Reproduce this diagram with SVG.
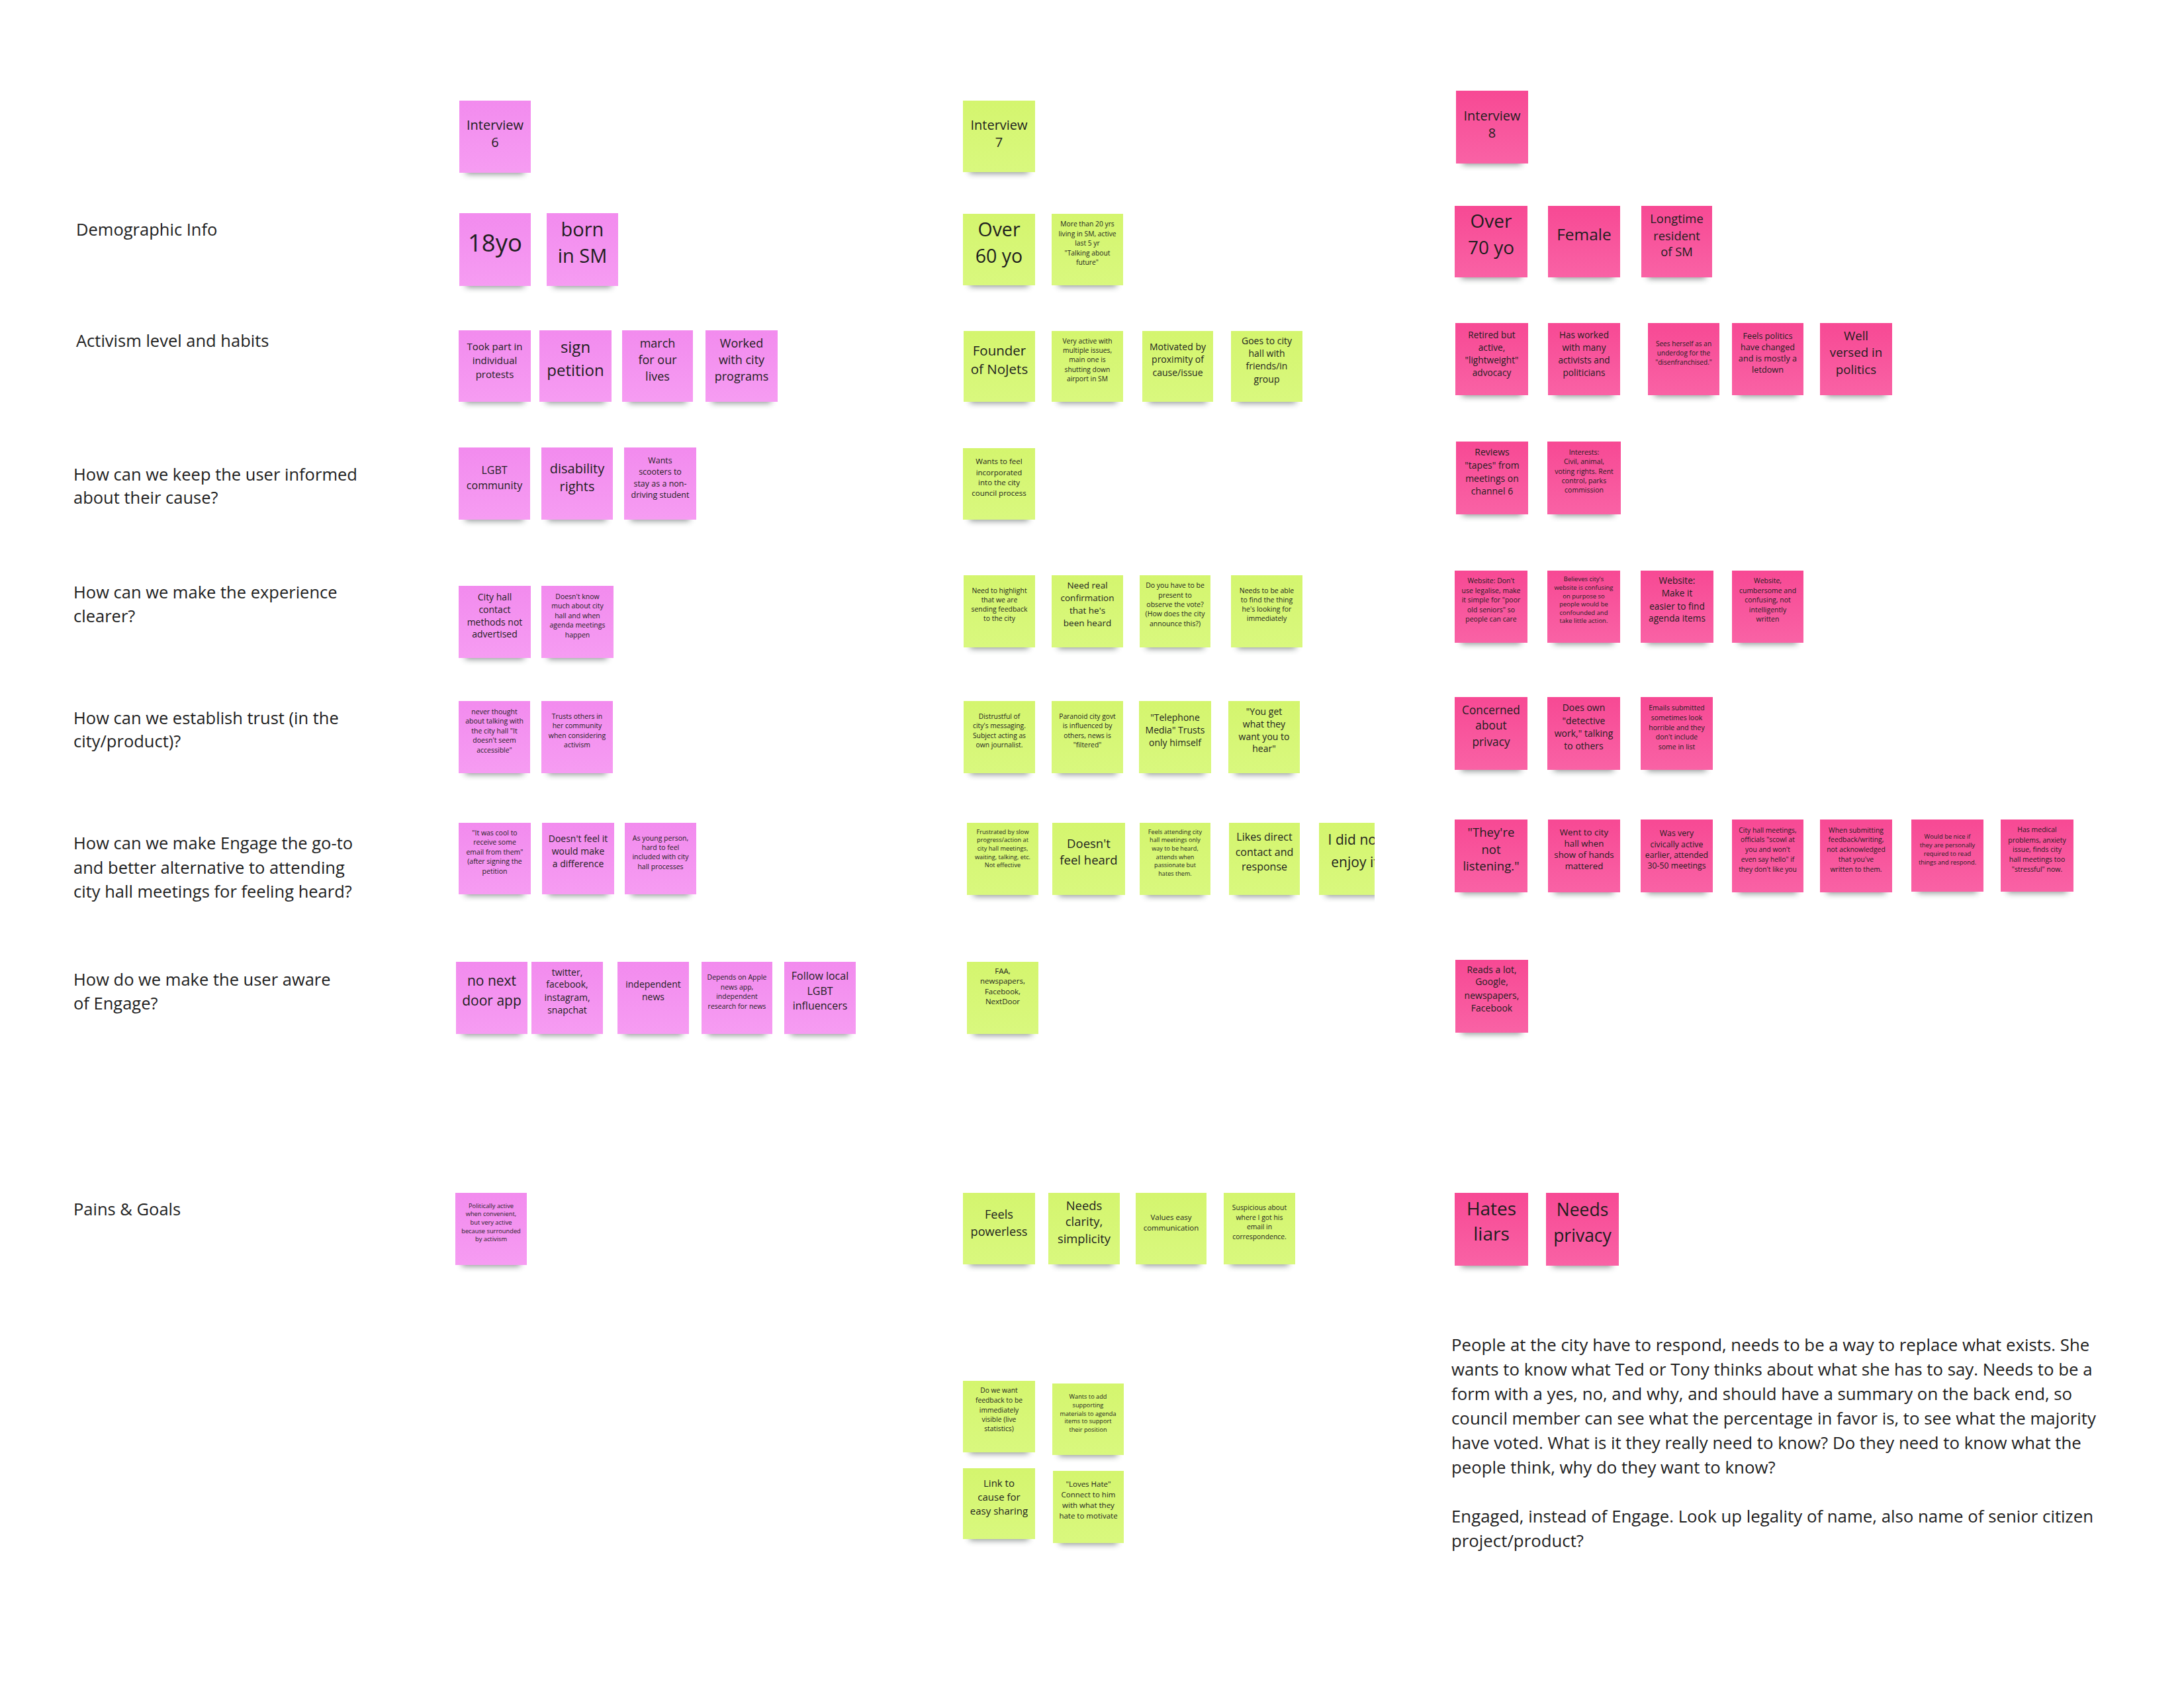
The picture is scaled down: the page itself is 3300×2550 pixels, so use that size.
<svg xmlns="http://www.w3.org/2000/svg" width="3300" height="2550" viewBox="0 0 3300 2550">
<defs>
<style>
.t{font-family:"Open Sans","Noto Sans","DejaVu Sans",sans-serif;fill:#1e1e1e;text-anchor:middle}
.l{font-family:"Open Sans","Noto Sans","DejaVu Sans",sans-serif;fill:#1e1e1e;font-size:25.5px}
.s{fill:#2f3a38;opacity:.55;filter:url(#b)}
.c1{fill:url(#g1)}
.c2{fill:url(#g2)}
.c3{fill:url(#g3)}
</style>
<filter id="b" x="-30%" y="-150%" width="160%" height="400%"><feGaussianBlur stdDeviation="5"/></filter>
<linearGradient id="g1" x1="0" y1="0" x2="0" y2="1"><stop offset="0" stop-color="#F28BEE"/><stop offset="1" stop-color="#F69CF2"/></linearGradient>
<linearGradient id="g2" x1="0" y1="0" x2="0" y2="1"><stop offset="0" stop-color="#D4F56E"/><stop offset="1" stop-color="#D9F87E"/></linearGradient>
<linearGradient id="g3" x1="0" y1="0" x2="0" y2="1"><stop offset="0" stop-color="#F74994"/><stop offset="1" stop-color="#F962A5"/></linearGradient>
<clipPath id="clipR"><rect x="0" y="0" width="2077" height="2550"/></clipPath>
</defs>
<rect width="3300" height="2550" fill="#ffffff"/>

<g id="labels">
<text class="l" x="115" y="356">Demographic Info</text>
<text class="l" x="115" y="524">Activism level and habits</text>
<text class="l" x="111" y="726">How can we keep the user informed</text>
<text class="l" x="111" y="761">about their cause?</text>
<text class="l" x="111" y="904">How can we make the experience</text>
<text class="l" x="111" y="940">clearer?</text>
<text class="l" x="111" y="1094">How can we establish trust (in the</text>
<text class="l" x="111" y="1129">city/product)?</text>
<text class="l" x="111" y="1283">How can we make Engage the go-to</text>
<text class="l" x="111" y="1320">and better alternative to attending</text>
<text class="l" x="111" y="1356">city hall meetings for feeling heard?</text>
<text class="l" x="111" y="1489">How do we make the user aware</text>
<text class="l" x="111" y="1525">of Engage?</text>
<text class="l" x="111" y="1836">Pains &amp; Goals</text>
</g>

<!-- Interview 6 column -->
<g id="int6"><rect class="s" x="704" y="249" width="88" height="14"/><rect class="c1" x="694" y="152" width="108" height="109"/><text class="t" font-size="20"><tspan x="748" y="196">Interview</tspan><tspan x="748" y="222">6</tspan></text></g>
<g id="i6-18yo"><rect class="s" x="704" y="420" width="88" height="14"/><rect class="c1" x="694" y="322" width="108" height="110"/><text class="t" font-size="36.5"><tspan x="748" y="380">18yo</tspan></text></g>
<g id="i6-born"><rect class="s" x="836" y="420" width="88" height="14"/><rect class="c1" x="826" y="322" width="108" height="110"/><text class="t" font-size="29"><tspan x="880" y="357">born</tspan><tspan x="880" y="397">in SM</tspan></text></g>
<g id="i6-took"><rect class="s" x="703" y="595" width="89" height="14"/><rect class="c1" x="693" y="499" width="109" height="108"/><text class="t" font-size="15"><tspan x="747.5" y="529">Took part in</tspan><tspan x="747.5" y="550">individual</tspan><tspan x="747.5" y="571">protests</tspan></text></g>
<g id="i6-sign"><rect class="s" x="825" y="595" width="89" height="14"/><rect class="c1" x="815" y="499" width="109" height="108"/><text class="t" font-size="24"><tspan x="869.5" y="533">sign</tspan><tspan x="869.5" y="568">petition</tspan></text></g>
<g id="i6-march"><rect class="s" x="950" y="595" width="87" height="14"/><rect class="c1" x="940" y="499" width="107" height="108"/><text class="t" font-size="18"><tspan x="993.5" y="525">march</tspan><tspan x="993.5" y="550">for our</tspan><tspan x="993.5" y="575">lives</tspan></text></g>
<g id="i6-worked"><rect class="s" x="1076" y="595" width="89" height="14"/><rect class="c1" x="1066" y="499" width="109" height="108"/><text class="t" font-size="18"><tspan x="1120.5" y="525">Worked</tspan><tspan x="1120.5" y="550">with city</tspan><tspan x="1120.5" y="575">programs</tspan></text></g>
<g id="i6-lgbt"><rect class="s" x="703" y="773" width="88" height="14"/><rect class="c1" x="693" y="676" width="108" height="109"/><text class="t" font-size="16"><tspan x="747" y="716">LGBT</tspan><tspan x="747" y="739">community</tspan></text></g>
<g id="i6-disab"><rect class="s" x="828" y="773" width="88" height="14"/><rect class="c1" x="818" y="676" width="108" height="109"/><text class="t" font-size="20"><tspan x="872" y="715">disability</tspan><tspan x="872" y="742">rights</tspan></text></g>
<g id="i6-scoot"><rect class="s" x="953" y="773" width="89" height="14"/><rect class="c1" x="943" y="676" width="109" height="109"/><text class="t" font-size="12.5"><tspan x="997.5" y="700">Wants</tspan><tspan x="997.5" y="717">scooters to</tspan><tspan x="997.5" y="735">stay as a non-</tspan><tspan x="997.5" y="752">driving student</tspan></text></g>
<g id="i6-cityhall"><rect class="s" x="703" y="982" width="89" height="14"/><rect class="c1" x="693" y="885" width="109" height="109"/><text class="t" font-size="14"><tspan x="747.5" y="907">City hall</tspan><tspan x="747.5" y="926">contact</tspan><tspan x="747.5" y="945">methods not</tspan><tspan x="747.5" y="963">advertised</tspan></text></g>
<g id="i6-dknow"><rect class="s" x="828" y="982" width="89" height="14"/><rect class="c1" x="818" y="885" width="109" height="109"/><text class="t" font-size="10.5"><tspan x="872.5" y="904.5">Doesn't know</tspan><tspan x="872.5" y="919">much about city</tspan><tspan x="872.5" y="933.5">hall and when</tspan><tspan x="872.5" y="948">agenda meetings</tspan><tspan x="872.5" y="962.5">happen</tspan></text></g>
<g id="i6-never"><rect class="s" x="703" y="1156" width="88" height="14"/><rect class="c1" x="693" y="1059" width="108" height="109"/><text class="t" font-size="10.5"><tspan x="747" y="1078.6">never thought</tspan><tspan x="747" y="1093">about talking with</tspan><tspan x="747" y="1107.6">the city hall "It</tspan><tspan x="747" y="1122">doesn't seem</tspan><tspan x="747" y="1136.6">accessible"</tspan></text></g>
<g id="i6-trusts"><rect class="s" x="828" y="1156" width="88" height="14"/><rect class="c1" x="818" y="1059" width="108" height="109"/><text class="t" font-size="10.5"><tspan x="872" y="1085.7">Trusts others in</tspan><tspan x="872" y="1100.4">her community</tspan><tspan x="872" y="1114.7">when considering</tspan><tspan x="872" y="1129">activism</tspan></text></g>
<g id="i6-cool"><rect class="s" x="703" y="1339" width="89" height="14"/><rect class="c1" x="693" y="1243" width="109" height="108"/><text class="t" font-size="10.5"><tspan x="747.5" y="1261.6">"It was cool to</tspan><tspan x="747.5" y="1276.3">receive some</tspan><tspan x="747.5" y="1290.6">email from them"</tspan><tspan x="747.5" y="1305.4">(after signing the</tspan><tspan x="747.5" y="1319.6">petition</tspan></text></g>
<g id="i6-dfeel"><rect class="s" x="829" y="1339" width="89" height="14"/><rect class="c1" x="819" y="1243" width="109" height="108"/><text class="t" font-size="14"><tspan x="873.5" y="1272">Doesn't feel it</tspan><tspan x="873.5" y="1291">would make</tspan><tspan x="873.5" y="1310">a difference</tspan></text></g>
<g id="i6-young"><rect class="s" x="954" y="1339" width="88" height="14"/><rect class="c1" x="944" y="1243" width="108" height="108"/><text class="t" font-size="10.5"><tspan x="998" y="1269.6">As young person,</tspan><tspan x="998" y="1284">hard to feel</tspan><tspan x="998" y="1298">included with city</tspan><tspan x="998" y="1313">hall processes</tspan></text></g>
<g id="i6-nonext"><rect class="s" x="699" y="1550" width="88" height="14"/><rect class="c1" x="689" y="1453" width="108" height="109"/><text class="t" font-size="21"><tspan x="743" y="1489">no next</tspan><tspan x="743" y="1519">door app</tspan></text></g>
<g id="i6-twitter"><rect class="s" x="813" y="1550" width="88" height="14"/><rect class="c1" x="803" y="1453" width="108" height="109"/><text class="t" font-size="14"><tspan x="857" y="1474">twitter,</tspan><tspan x="857" y="1492">facebook,</tspan><tspan x="857" y="1511.6">instagram,</tspan><tspan x="857" y="1530.8">snapchat</tspan></text></g>
<g id="i6-indep"><rect class="s" x="943" y="1550" width="88" height="14"/><rect class="c1" x="933" y="1453" width="108" height="109"/><text class="t" font-size="14"><tspan x="987" y="1492">independent</tspan><tspan x="987" y="1511">news</tspan></text></g>
<g id="i6-apple"><rect class="s" x="1070" y="1550" width="87" height="14"/><rect class="c1" x="1060" y="1453" width="107" height="109"/><text class="t" font-size="10.5"><tspan x="1113.5" y="1480">Depends on Apple</tspan><tspan x="1113.5" y="1495">news app,</tspan><tspan x="1113.5" y="1509">independent</tspan><tspan x="1113.5" y="1524">research for news</tspan></text></g>
<g id="i6-follow"><rect class="s" x="1195" y="1550" width="88" height="14"/><rect class="c1" x="1185" y="1453" width="108" height="109"/><text class="t" font-size="16"><tspan x="1239" y="1479.5">Follow local</tspan><tspan x="1239" y="1502.7">LGBT</tspan><tspan x="1239" y="1525">influencers</tspan></text></g>
<g id="i6-polit"><rect class="s" x="698" y="1899" width="88" height="14"/><rect class="c1" x="688" y="1802" width="108" height="109"/><text class="t" font-size="9.3"><tspan x="742" y="1825">Politically active</tspan><tspan x="742" y="1837.3">when convenient,</tspan><tspan x="742" y="1850">but very active</tspan><tspan x="742" y="1862.7">because surrounded</tspan><tspan x="742" y="1875">by activism</tspan></text></g>

<!-- Interview 7 column -->
<g id="int7"><rect class="s" x="1465" y="248" width="89" height="14"/><rect class="c2" x="1455" y="152" width="109" height="108"/><text class="t" font-size="20"><tspan x="1509.5" y="196">Interview</tspan><tspan x="1509.5" y="222">7</tspan></text></g>
<g id="i7-over60"><rect class="s" x="1465" y="419" width="89" height="14"/><rect class="c2" x="1455" y="323" width="109" height="108"/><text class="t" font-size="28.5"><tspan x="1509.5" y="356.7">Over</tspan><tspan x="1509.5" y="396.7">60 yo</tspan></text></g>
<g id="i7-more20"><rect class="s" x="1599" y="419" width="88" height="14"/><rect class="c2" x="1589" y="323" width="108" height="108"/><text class="t" font-size="10.3"><tspan x="1643" y="342.3">More than 20 yrs</tspan><tspan x="1643" y="356.7">living in SM, active</tspan><tspan x="1643" y="370.7">last 5 yr</tspan><tspan x="1643" y="385.7">"Talking about</tspan><tspan x="1643" y="399.7">future"</tspan></text></g>
<g id="i7-founder"><rect class="s" x="1466" y="595" width="88" height="14"/><rect class="c2" x="1456" y="500" width="108" height="107"/><text class="t" font-size="20.5"><tspan x="1510" y="537.3">Founder</tspan><tspan x="1510" y="565">of NoJets</tspan></text></g>
<g id="i7-veryact"><rect class="s" x="1599" y="595" width="88" height="14"/><rect class="c2" x="1589" y="500" width="108" height="107"/><text class="t" font-size="10.3"><tspan x="1643" y="519">Very active with</tspan><tspan x="1643" y="533.3">multiple issues,</tspan><tspan x="1643" y="547.3">main one is</tspan><tspan x="1643" y="561.7">shutting down</tspan><tspan x="1643" y="576">airport in SM</tspan></text></g>
<g id="i7-motiv"><rect class="s" x="1736" y="595" width="87" height="14"/><rect class="c2" x="1726" y="500" width="107" height="107"/><text class="t" font-size="14"><tspan x="1779.5" y="529.3">Motivated by</tspan><tspan x="1779.5" y="548.3">proximity of</tspan><tspan x="1779.5" y="567.7">cause/issue</tspan></text></g>
<g id="i7-goes"><rect class="s" x="1870" y="595" width="88" height="14"/><rect class="c2" x="1860" y="500" width="108" height="107"/><text class="t" font-size="14"><tspan x="1914" y="520">Goes to city</tspan><tspan x="1914" y="539.3">hall with</tspan><tspan x="1914" y="558.3">friends/in</tspan><tspan x="1914" y="577.7">group</tspan></text></g>
<g id="i7-wantsfeel"><rect class="s" x="1465" y="773" width="89" height="14"/><rect class="c2" x="1455" y="677" width="109" height="108"/><text class="t" font-size="11.5"><tspan x="1509.5" y="701">Wants to feel</tspan><tspan x="1509.5" y="717.7">incorporated</tspan><tspan x="1509.5" y="733.3">into the city</tspan><tspan x="1509.5" y="749">council process</tspan></text></g>
<g id="i7-highlight"><rect class="s" x="1466" y="966" width="88" height="14"/><rect class="c2" x="1456" y="869" width="108" height="109"/><text class="t" font-size="10.4"><tspan x="1510" y="895.5">Need to highlight</tspan><tspan x="1510" y="909.8">that we are</tspan><tspan x="1510" y="924.1">sending feedback</tspan><tspan x="1510" y="938.4">to the city</tspan></text></g>
<g id="i7-confirm"><rect class="s" x="1599" y="966" width="88" height="14"/><rect class="c2" x="1589" y="869" width="108" height="109"/><text class="t" font-size="13.5"><tspan x="1643" y="889.3">Need real</tspan><tspan x="1643" y="908">confirmation</tspan><tspan x="1643" y="926.8">that he's</tspan><tspan x="1643" y="946">been heard</tspan></text></g>
<g id="i7-doyou"><rect class="s" x="1732" y="966" width="87" height="14"/><rect class="c2" x="1722" y="869" width="107" height="109"/><text class="t" font-size="10.5"><tspan x="1775.5" y="888.4">Do you have to be</tspan><tspan x="1775.5" y="902.7">present to</tspan><tspan x="1775.5" y="917">observe the vote?</tspan><tspan x="1775.5" y="931.3">(How does the city</tspan><tspan x="1775.5" y="946">announce this?)</tspan></text></g>
<g id="i7-needsable"><rect class="s" x="1870" y="966" width="88" height="14"/><rect class="c2" x="1860" y="869" width="108" height="109"/><text class="t" font-size="10.5"><tspan x="1914" y="895.5">Needs to be able</tspan><tspan x="1914" y="909.8">to find the thing</tspan><tspan x="1914" y="924.1">he's looking for</tspan><tspan x="1914" y="938.4">immediately</tspan></text></g>
<g id="i7-distrust"><rect class="s" x="1466" y="1156" width="88" height="14"/><rect class="c2" x="1456" y="1059" width="108" height="109"/><text class="t" font-size="10.3"><tspan x="1510" y="1085.7">Distrustful of</tspan><tspan x="1510" y="1100.4">city's messaging.</tspan><tspan x="1510" y="1114.7">Subject acting as</tspan><tspan x="1510" y="1129">own journalist.</tspan></text></g>
<g id="i7-paranoid"><rect class="s" x="1599" y="1156" width="88" height="14"/><rect class="c2" x="1589" y="1059" width="108" height="109"/><text class="t" font-size="10.3"><tspan x="1643" y="1085.7">Paranoid city govt</tspan><tspan x="1643" y="1100.4">is influenced by</tspan><tspan x="1643" y="1114.7">others, news is</tspan><tspan x="1643" y="1129">"filtered"</tspan></text></g>
<g id="i7-teleph"><rect class="s" x="1731" y="1156" width="89" height="14"/><rect class="c2" x="1721" y="1059" width="109" height="109"/><text class="t" font-size="14"><tspan x="1775.5" y="1088.8">"Telephone</tspan><tspan x="1775.5" y="1108">Media" Trusts</tspan><tspan x="1775.5" y="1126.8">only himself</tspan></text></g>
<g id="i7-youget"><rect class="s" x="1866" y="1156" width="88" height="14"/><rect class="c2" x="1856" y="1059" width="108" height="109"/><text class="t" font-size="14"><tspan x="1910" y="1080">"You get</tspan><tspan x="1910" y="1099">what they</tspan><tspan x="1910" y="1117.9">want you to</tspan><tspan x="1910" y="1135.7">hear"</tspan></text></g>
<g id="i7-frustr"><rect class="s" x="1471" y="1340" width="88" height="14"/><rect class="c2" x="1461" y="1243" width="108" height="109"/><text class="t" font-size="9.2"><tspan x="1515" y="1259.8">Frustrated by slow</tspan><tspan x="1515" y="1272.3">progress/action at</tspan><tspan x="1515" y="1285.3">city hall meetings,</tspan><tspan x="1515" y="1297.8">waiting, talking, etc.</tspan><tspan x="1515" y="1310.3">Not effective</tspan></text></g>
<g id="i7-dfh"><rect class="s" x="1600" y="1340" width="90" height="14"/><rect class="c2" x="1590" y="1243" width="110" height="109"/><text class="t" font-size="18.5"><tspan x="1645" y="1280.8">Doesn't</tspan><tspan x="1645" y="1306.3">feel heard</tspan></text></g>
<g id="i7-attend"><rect class="s" x="1732" y="1340" width="87" height="14"/><rect class="c2" x="1722" y="1243" width="107" height="109"/><text class="t" font-size="9.1"><tspan x="1775.5" y="1259.8">Feels attending city</tspan><tspan x="1775.5" y="1272.3">hall meetings only</tspan><tspan x="1775.5" y="1285.3">way to be heard,</tspan><tspan x="1775.5" y="1297.8">attends when</tspan><tspan x="1775.5" y="1310.3">passionate but</tspan><tspan x="1775.5" y="1323">hates them.</tspan></text></g>
<g id="i7-likes"><rect class="s" x="1867" y="1340" width="87" height="14"/><rect class="c2" x="1857" y="1243" width="107" height="109"/><text class="t" font-size="16"><tspan x="1910.5" y="1269.6">Likes direct</tspan><tspan x="1910.5" y="1292.9">contact and</tspan><tspan x="1910.5" y="1315.2">response</tspan></text></g>
<g id="i7-enjoy" clip-path="url(#clipR)"><rect class="s" x="2003" y="1340" width="88" height="14"/><rect class="c2" x="1993" y="1243" width="108" height="109"/><text class="t" font-size="21"><tspan x="2047" y="1276.3">I did not</tspan><tspan x="2047" y="1309.8">enjoy it</tspan></text></g>
<g id="i7-faa"><rect class="s" x="1471" y="1550" width="88" height="14"/><rect class="c2" x="1461" y="1453" width="108" height="109"/><text class="t" font-size="11.5"><tspan x="1515" y="1470.5">FAA,</tspan><tspan x="1515" y="1486.2">newspapers,</tspan><tspan x="1515" y="1501.8">Facebook,</tspan><tspan x="1515" y="1517.4">NextDoor</tspan></text></g>
<g id="i7-powerless"><rect class="s" x="1465" y="1898" width="89" height="14"/><rect class="c2" x="1455" y="1802" width="109" height="108"/><text class="t" font-size="18.2"><tspan x="1509.5" y="1841">Feels</tspan><tspan x="1509.5" y="1867">powerless</tspan></text></g>
<g id="i7-clarity"><rect class="s" x="1594" y="1898" width="88" height="14"/><rect class="c2" x="1584" y="1802" width="108" height="108"/><text class="t" font-size="18.4"><tspan x="1638" y="1828">Needs</tspan><tspan x="1638" y="1852">clarity,</tspan><tspan x="1638" y="1878">simplicity</tspan></text></g>
<g id="i7-values"><rect class="s" x="1726" y="1898" width="87" height="14"/><rect class="c2" x="1716" y="1802" width="107" height="108"/><text class="t" font-size="11.5"><tspan x="1769.5" y="1843">Values easy</tspan><tspan x="1769.5" y="1858.5">communication</tspan></text></g>
<g id="i7-suspic"><rect class="s" x="1859" y="1898" width="88" height="14"/><rect class="c2" x="1849" y="1802" width="108" height="108"/><text class="t" font-size="10.4"><tspan x="1903" y="1828">Suspicious  about</tspan><tspan x="1903" y="1843">where I got his</tspan><tspan x="1903" y="1857">email in</tspan><tspan x="1903" y="1871.5">correspondence.</tspan></text></g>
<g id="i7-dowe"><rect class="s" x="1465" y="2182" width="89" height="14"/><rect class="c2" x="1455" y="2086" width="109" height="108"/><text class="t" font-size="10.3"><tspan x="1509.5" y="2104.4">Do we want</tspan><tspan x="1509.5" y="2118.9">feedback to be</tspan><tspan x="1509.5" y="2133.7">immediately</tspan><tspan x="1509.5" y="2147.8">visible (live</tspan><tspan x="1509.5" y="2162.2">statistics)</tspan></text></g>
<g id="i7-wantsadd"><rect class="s" x="1600" y="2186" width="88" height="14"/><rect class="c2" x="1590" y="2090" width="108" height="108"/><text class="t" font-size="9.2"><tspan x="1644" y="2113.3">Wants to add</tspan><tspan x="1644" y="2125.6">supporting</tspan><tspan x="1644" y="2138.5">materials to agenda</tspan><tspan x="1644" y="2150.4">items to support</tspan><tspan x="1644" y="2163.3">their position</tspan></text></g>
<g id="i7-link"><rect class="s" x="1465" y="2313" width="89" height="14"/><rect class="c2" x="1455" y="2218" width="109" height="107"/><text class="t" font-size="15"><tspan x="1509.5" y="2246">Link to</tspan><tspan x="1509.5" y="2267">cause for</tspan><tspan x="1509.5" y="2288">easy sharing</tspan></text></g>
<g id="i7-loves"><rect class="s" x="1601" y="2319" width="87" height="14"/><rect class="c2" x="1591" y="2222" width="107" height="109"/><text class="t" font-size="11.5"><tspan x="1644.5" y="2246">"Loves Hate"</tspan><tspan x="1644.5" y="2261.5">Connect to him</tspan><tspan x="1644.5" y="2278">with what they</tspan><tspan x="1644.5" y="2294">hate to motivate</tspan></text></g>

<!-- Interview 8 column -->
<g id="int8"><rect class="s" x="2210" y="235" width="89" height="14"/><rect class="c3" x="2200" y="137" width="109" height="110"/><text class="t" font-size="20"><tspan x="2254.5" y="181.7">Interview</tspan><tspan x="2254.5" y="208.3">8</tspan></text></g>
<g id="i8-over70"><rect class="s" x="2208" y="407" width="90" height="14"/><rect class="c3" x="2198" y="311" width="110" height="108"/><text class="t" font-size="28"><tspan x="2253" y="344.3">Over</tspan><tspan x="2253" y="384.3">70 yo</tspan></text></g>
<g id="i8-female"><rect class="s" x="2349" y="407" width="89" height="14"/><rect class="c3" x="2339" y="311" width="109" height="108"/><text class="t" font-size="24.5"><tspan x="2393.5" y="363.3">Female</tspan></text></g>
<g id="i8-longtime"><rect class="s" x="2490" y="407" width="87" height="14"/><rect class="c3" x="2480" y="311" width="107" height="108"/><text class="t" font-size="18.4"><tspan x="2533.5" y="337.3">Longtime</tspan><tspan x="2533.5" y="362.7">resident</tspan><tspan x="2533.5" y="387.3">of SM</tspan></text></g>
<g id="i8-retired"><rect class="s" x="2209" y="585" width="90" height="14"/><rect class="c3" x="2199" y="488" width="110" height="109"/><text class="t" font-size="13.7"><tspan x="2254" y="510.7">Retired but</tspan><tspan x="2254" y="530">active,</tspan><tspan x="2254" y="549.3">"lightweight"</tspan><tspan x="2254" y="568.3">advocacy</tspan></text></g>
<g id="i8-hasworked"><rect class="s" x="2349" y="585" width="89" height="14"/><rect class="c3" x="2339" y="488" width="109" height="109"/><text class="t" font-size="13.6"><tspan x="2393.5" y="510.7">Has worked</tspan><tspan x="2393.5" y="530">with many</tspan><tspan x="2393.5" y="549.3">activists and</tspan><tspan x="2393.5" y="568.3">politicians</tspan></text></g>
<g id="i8-sees"><rect class="s" x="2500" y="585" width="88" height="14"/><rect class="c3" x="2490" y="488" width="108" height="109"/><text class="t" font-size="10.1"><tspan x="2544" y="522.7">Sees herself as an</tspan><tspan x="2544" y="536.7">underdog for the</tspan><tspan x="2544" y="550.7">"disenfranchised."</tspan></text></g>
<g id="i8-feelspol"><rect class="s" x="2627" y="585" width="88" height="14"/><rect class="c3" x="2617" y="488" width="108" height="109"/><text class="t" font-size="12.7"><tspan x="2671" y="511.7">Feels politics</tspan><tspan x="2671" y="529.3">have changed</tspan><tspan x="2671" y="546">and is mostly a</tspan><tspan x="2671" y="563.3">letdown</tspan></text></g>
<g id="i8-wellv"><rect class="s" x="2760" y="585" width="89" height="14"/><rect class="c3" x="2750" y="488" width="109" height="109"/><text class="t" font-size="18.7"><tspan x="2804.5" y="514.3">Well</tspan><tspan x="2804.5" y="539.3">versed in</tspan><tspan x="2804.5" y="565">politics</tspan></text></g>
<g id="i8-reviews"><rect class="s" x="2210" y="765" width="89" height="14"/><rect class="c3" x="2200" y="667" width="109" height="110"/><text class="t" font-size="14"><tspan x="2254.5" y="688.3">Reviews</tspan><tspan x="2254.5" y="708.3">"tapes" from</tspan><tspan x="2254.5" y="728.3">meetings on</tspan><tspan x="2254.5" y="747.3">channel 6</tspan></text></g>
<g id="i8-interests"><rect class="s" x="2348" y="765" width="91" height="14"/><rect class="c3" x="2338" y="667" width="111" height="110"/><text class="t" font-size="10.5"><tspan x="2393.5" y="686.7">Interests:</tspan><tspan x="2393.5" y="701">Civil, animal,</tspan><tspan x="2393.5" y="715.7">voting rights. Rent</tspan><tspan x="2393.5" y="730">control, parks</tspan><tspan x="2393.5" y="744.3">commission</tspan></text></g>
<g id="i8-webdont"><rect class="s" x="2208" y="959" width="90" height="14"/><rect class="c3" x="2198" y="862" width="110" height="109"/><text class="t" font-size="10.5"><tspan x="2253" y="881.3">Website: Don't</tspan><tspan x="2253" y="895.5">use legalise, make</tspan><tspan x="2253" y="910.3">it simple for "poor</tspan><tspan x="2253" y="924.6">old seniors" so</tspan><tspan x="2253" y="939.3">people can care</tspan></text></g>
<g id="i8-believes"><rect class="s" x="2348" y="959" width="90" height="14"/><rect class="c3" x="2338" y="862" width="110" height="109"/><text class="t" font-size="9.5"><tspan x="2393" y="877.7">Believes city's</tspan><tspan x="2393" y="890.6">website is confusing</tspan><tspan x="2393" y="903.6">on purpose so</tspan><tspan x="2393" y="916">people would be</tspan><tspan x="2393" y="928.6">confounded and</tspan><tspan x="2393" y="941">take little action.</tspan></text></g>
<g id="i8-webmake"><rect class="s" x="2489" y="959" width="90" height="14"/><rect class="c3" x="2479" y="862" width="110" height="109"/><text class="t" font-size="13.7"><tspan x="2534" y="882">Website:</tspan><tspan x="2534" y="901.3">Make it</tspan><tspan x="2534" y="920.5">easier to find</tspan><tspan x="2534" y="939.3">agenda items</tspan></text></g>
<g id="i8-webcumb"><rect class="s" x="2627" y="959" width="88" height="14"/><rect class="c3" x="2617" y="862" width="108" height="109"/><text class="t" font-size="10.5"><tspan x="2671" y="881.3">Website,</tspan><tspan x="2671" y="895.5">cumbersome and</tspan><tspan x="2671" y="910.3">confusing, not</tspan><tspan x="2671" y="924.6">intelligently</tspan><tspan x="2671" y="939.3">written</tspan></text></g>
<g id="i8-concerned"><rect class="s" x="2208" y="1151" width="90" height="14"/><rect class="c3" x="2198" y="1053" width="110" height="110"/><text class="t" font-size="17.3"><tspan x="2253" y="1078.6">Concerned</tspan><tspan x="2253" y="1102.2">about</tspan><tspan x="2253" y="1126.8">privacy</tspan></text></g>
<g id="i8-doesown"><rect class="s" x="2348" y="1151" width="90" height="14"/><rect class="c3" x="2338" y="1053" width="110" height="110"/><text class="t" font-size="14"><tspan x="2393" y="1074">Does own</tspan><tspan x="2393" y="1094.2">"detective</tspan><tspan x="2393" y="1113.4">work," talking</tspan><tspan x="2393" y="1132">to others</tspan></text></g>
<g id="i8-emails"><rect class="s" x="2489" y="1151" width="89" height="14"/><rect class="c3" x="2479" y="1053" width="109" height="110"/><text class="t" font-size="10.5"><tspan x="2533.5" y="1073.2">Emails submitted</tspan><tspan x="2533.5" y="1087.5">sometimes look</tspan><tspan x="2533.5" y="1102.7">horrible and they</tspan><tspan x="2533.5" y="1116.5">don't include</tspan><tspan x="2533.5" y="1131.7">some in list</tspan></text></g>
<g id="i8-notlisten"><rect class="s" x="2208" y="1336" width="90" height="14"/><rect class="c3" x="2198" y="1238" width="110" height="110"/><text class="t" font-size="18.6"><tspan x="2253" y="1264.3">"They're</tspan><tspan x="2253" y="1289.7">not</tspan><tspan x="2253" y="1315.2">listening."</tspan></text></g>
<g id="i8-wentcity"><rect class="s" x="2349" y="1336" width="89" height="14"/><rect class="c3" x="2339" y="1238" width="109" height="110"/><text class="t" font-size="13.3"><tspan x="2393.5" y="1261.6">Went to city</tspan><tspan x="2393.5" y="1278.6">hall when</tspan><tspan x="2393.5" y="1296.4">show of hands</tspan><tspan x="2393.5" y="1313.4">mattered</tspan></text></g>
<g id="i8-wasvery"><rect class="s" x="2489" y="1336" width="89" height="14"/><rect class="c3" x="2479" y="1238" width="109" height="110"/><text class="t" font-size="12.3"><tspan x="2533.5" y="1263">Was very</tspan><tspan x="2533.5" y="1279.5">civically active</tspan><tspan x="2533.5" y="1295.5">earlier, attended</tspan><tspan x="2533.5" y="1312">30-50 meetings</tspan></text></g>
<g id="i8-cityhallm"><rect class="s" x="2627" y="1336" width="88" height="14"/><rect class="c3" x="2617" y="1238" width="108" height="110"/><text class="t" font-size="10.3"><tspan x="2671" y="1257.6">City hall meetings,</tspan><tspan x="2671" y="1272.3">officials "scowl at</tspan><tspan x="2671" y="1286.6">you and won't</tspan><tspan x="2671" y="1301.8">even say hello" if</tspan><tspan x="2671" y="1316.5">they don't like you</tspan></text></g>
<g id="i8-whensub"><rect class="s" x="2760" y="1336" width="89" height="14"/><rect class="c3" x="2750" y="1238" width="109" height="110"/><text class="t" font-size="10.4"><tspan x="2804.5" y="1257.6">When submitting</tspan><tspan x="2804.5" y="1272.3">feedback/writing,</tspan><tspan x="2804.5" y="1286.6">not acknowledged</tspan><tspan x="2804.5" y="1301.8">that you've</tspan><tspan x="2804.5" y="1316.5">written to them.</tspan></text></g>
<g id="i8-wouldbe"><rect class="s" x="2898" y="1335" width="89" height="14"/><rect class="c3" x="2888" y="1238" width="109" height="109"/><text class="t" font-size="9.4"><tspan x="2942.5" y="1266.7">Would be nice if</tspan><tspan x="2942.5" y="1280">they are personally</tspan><tspan x="2942.5" y="1293.3">required to read</tspan><tspan x="2942.5" y="1306">things and respond.</tspan></text></g>
<g id="i8-hasmed"><rect class="s" x="3033" y="1335" width="90" height="14"/><rect class="c3" x="3023" y="1238" width="110" height="109"/><text class="t" font-size="10.5"><tspan x="3078" y="1257.3">Has medical</tspan><tspan x="3078" y="1272.7">problems, anxiety</tspan><tspan x="3078" y="1286.7">issue, finds city</tspan><tspan x="3078" y="1301.7">hall meetings too</tspan><tspan x="3078" y="1316.7">"stressful" now.</tspan></text></g>
<g id="i8-reads"><rect class="s" x="2209" y="1548" width="90" height="14"/><rect class="c3" x="2199" y="1450" width="110" height="110"/><text class="t" font-size="14"><tspan x="2254" y="1469.6">Reads a lot,</tspan><tspan x="2254" y="1488.4">Google,</tspan><tspan x="2254" y="1508.5">newspapers,</tspan><tspan x="2254" y="1527.7">Facebook</tspan></text></g>
<g id="i8-hates"><rect class="s" x="2208" y="1900" width="91" height="14"/><rect class="c3" x="2198" y="1802" width="111" height="110"/><text class="t" font-size="28"><tspan x="2253.5" y="1835.6">Hates</tspan><tspan x="2253.5" y="1874.4">liars</tspan></text></g>
<g id="i8-needspriv"><rect class="s" x="2346" y="1900" width="90" height="14"/><rect class="c3" x="2336" y="1802" width="110" height="110"/><text class="t" font-size="26.5"><tspan x="2391" y="1837.4">Needs</tspan><tspan x="2391" y="1875.6">privacy</tspan></text></g>

<g id="notes-text">
<text class="l" style="font-size:25.8px">
<tspan x="2193" y="2041">People at the city have to respond, needs to be a way to replace what exists. She</tspan>
<tspan x="2193" y="2078">wants to know what Ted or Tony thinks about what she has to say. Needs to be a</tspan>
<tspan x="2193" y="2115">form with a yes, no, and why, and should have a summary on the back end, so</tspan>
<tspan x="2193" y="2151.5">council member can see what the percentage in favor is, to see what the majority</tspan>
<tspan x="2193" y="2188.5">have voted. What is it they really need to know? Do they need to know what the</tspan>
<tspan x="2193" y="2225.5">people think, why do they want to know?</tspan>
<tspan x="2193" y="2299.6">Engaged, instead of Engage. Look up legality of name, also name of senior citizen</tspan>
<tspan x="2193" y="2336.7">project/product?</tspan>
</text>
</g>

<g id="connectors"/>
</svg>
